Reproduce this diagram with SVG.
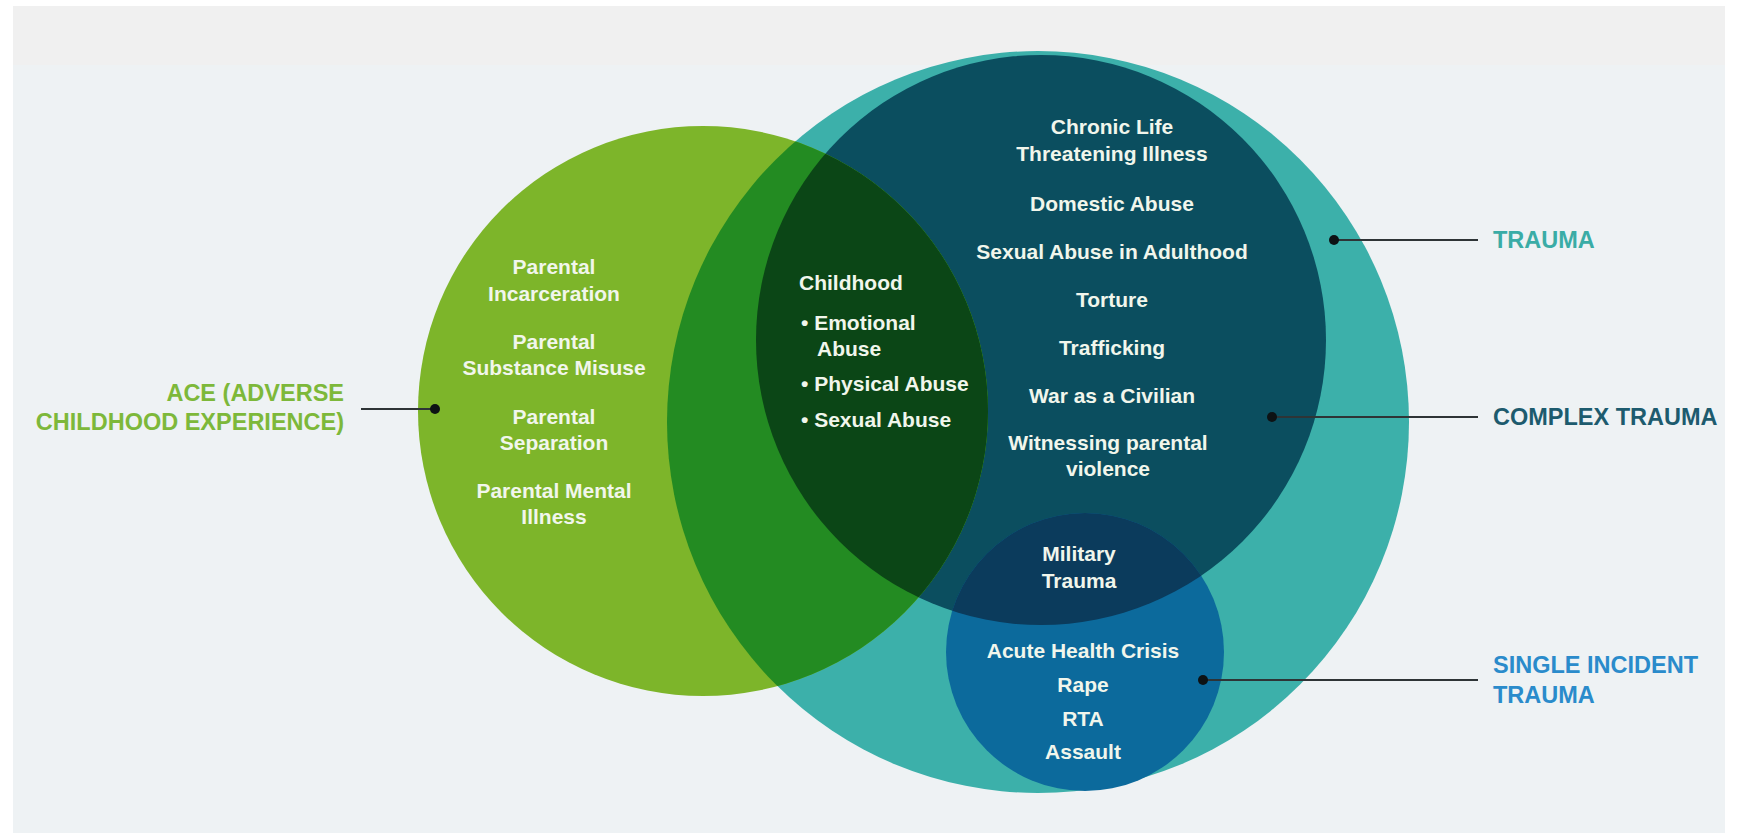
<svg xmlns="http://www.w3.org/2000/svg" width="1737" height="833" viewBox="0 0 1737 833">
<style>
.t{font-family:"Liberation Sans",Arial,sans-serif;font-weight:bold;font-size:21px;fill:#f1f6ec;text-anchor:middle}
.tl{text-anchor:start}
.lab{font-family:"Liberation Sans",Arial,sans-serif;font-weight:bold;font-size:23.5px}
.ln{stroke:#2e3436;stroke-width:2;fill:none}
.dot{fill:#0d1214}
</style>
<defs>
<clipPath id="cTeal"><circle cx="1038" cy="422" r="371"/></clipPath>
<clipPath id="cComplex"><circle cx="1041" cy="340" r="285"/></clipPath>
</defs>
<rect x="0" y="0" width="1737" height="833" fill="#ffffff"/>
<rect x="13" y="6" width="1712" height="827" fill="#eef2f4"/>
<rect x="13" y="6" width="1712" height="59" fill="#f0f0f0"/>

<g id="trauma">
<circle cx="1038" cy="422" r="371" fill="#3cb0aa"/>
</g>
<g id="complex-trauma">
<circle cx="1041" cy="340" r="285" fill="#0b4e5f"/>
</g>
<g id="single-incident">
<circle cx="1085" cy="652" r="139" fill="#0c6a9c"/>
<circle cx="1085" cy="652" r="139" fill="#0b3b5c" clip-path="url(#cComplex)"/>
</g>
<g id="ace">
<circle cx="703" cy="411" r="285" fill="#7db52a"/>
<circle cx="703" cy="411" r="285" fill="#238b22" clip-path="url(#cTeal)"/>
<circle cx="703" cy="411" r="285" fill="#0b4616" clip-path="url(#cComplex)"/>
</g>

<g id="ace-items">
<text class="t" x="554" y="274">Parental</text>
<text class="t" x="554" y="301">Incarceration</text>
<text class="t" x="554" y="349">Parental</text>
<text class="t" x="554" y="375">Substance Misuse</text>
<text class="t" x="554" y="424">Parental</text>
<text class="t" x="554" y="450">Separation</text>
<text class="t" x="554" y="498">Parental Mental</text>
<text class="t" x="554" y="524">Illness</text>
</g>
<g id="childhood-items">
<text class="t tl" x="799" y="290">Childhood</text>
<text class="t tl" x="801" y="330">• Emotional</text>
<text class="t tl" x="817" y="356">Abuse</text>
<text class="t tl" x="801" y="391">• Physical Abuse</text>
<text class="t tl" x="801" y="427">• Sexual Abuse</text>
</g>
<g id="complex-items">
<text class="t" x="1112" y="134">Chronic Life</text>
<text class="t" x="1112" y="161">Threatening Illness</text>
<text class="t" x="1112" y="211">Domestic Abuse</text>
<text class="t" x="1112" y="259">Sexual Abuse in Adulthood</text>
<text class="t" x="1112" y="307">Torture</text>
<text class="t" x="1112" y="355">Trafficking</text>
<text class="t" x="1112" y="403">War as a Civilian</text>
<text class="t" x="1108" y="450">Witnessing parental</text>
<text class="t" x="1108" y="476">violence</text>
</g>
<g id="military-items">
<text class="t" x="1079" y="561">Military</text>
<text class="t" x="1079" y="588">Trauma</text>
</g>
<g id="single-items">
<text class="t" x="1083" y="658">Acute Health Crisis</text>
<text class="t" x="1083" y="692">Rape</text>
<text class="t" x="1083" y="726">RTA</text>
<text class="t" x="1083" y="759">Assault</text>
</g>

<g id="connectors">
<line class="ln" x1="1334" y1="240" x2="1478" y2="240"/>
<circle class="dot" cx="1334" cy="240" r="5"/>
<line class="ln" x1="1272" y1="417" x2="1478" y2="417"/>
<circle class="dot" cx="1272" cy="417" r="5"/>
<line class="ln" x1="1203" y1="680" x2="1478" y2="680"/>
<circle class="dot" cx="1203" cy="680" r="5"/>
<line class="ln" x1="361" y1="409" x2="435" y2="409"/>
<circle class="dot" cx="435" cy="409" r="5"/>
</g>

<g id="labels">
<text class="lab" x="1493" y="248" fill="#3aaca6">TRAUMA</text>
<text class="lab" x="1493" y="425" fill="#1d5b6e">COMPLEX TRAUMA</text>
<text class="lab" x="1493" y="673" fill="#2a8bcb">SINGLE INCIDENT</text>
<text class="lab" x="1493" y="703" fill="#2a8bcb">TRAUMA</text>
<text class="lab" x="344" y="401" fill="#7db83a" text-anchor="end">ACE (ADVERSE</text>
<text class="lab" x="344" y="430" fill="#7db83a" text-anchor="end">CHILDHOOD EXPERIENCE)</text>
</g>
</svg>
